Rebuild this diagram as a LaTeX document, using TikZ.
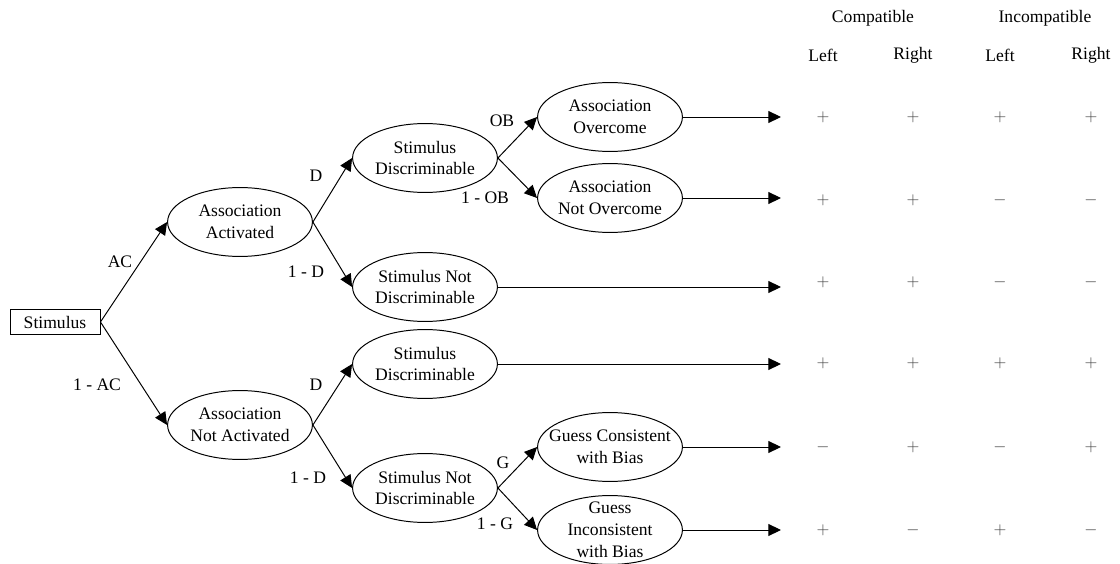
\documentclass[tikz,border=0pt]{standalone}
\usepackage{fontspec}
\setmainfont{Liberation Serif}
\usetikzlibrary{shapes.geometric,arrows.meta}
\begin{document}
\begin{tikzpicture}[x=0.025cm,y=-0.025cm,
  every node/.style={font=\fontsize{12.5}{15.6}\selectfont},
  state/.style={ellipse,draw,line width=0.7pt,inner xsep=-9pt,inner ysep=-9pt,minimum width=103pt,minimum height=49pt,align=center},
  rootbox/.style={rectangle,draw,line width=0.7pt,inner sep=0pt,minimum width=64pt,minimum height=18pt},
  branch/.style={line width=0.7pt,-{Triangle[length=9pt,width=8.5pt]}},
  lab/.style={inner sep=0pt},
  sign/.style={inner sep=0pt,text=black!75,font=\fontsize{12}{14}\selectfont},
  head/.style={inner sep=0pt}]
\useasboundingbox (0,0) rectangle (1120,564);

% tree nodes
\node[rootbox] (stim) at (55,322) {Stimulus};
\node[state] (aa)  at (240,222) {Association\\Activated};
\node[state] (ana) at (240,425) {Association\\Not Activated};
\node[state] (sd1) at (425,158) {Stimulus\\Discriminable};
\node[state] (snd1) at (425,287) {Stimulus Not\\Discriminable};
\node[state] (sd2) at (425,364) {Stimulus\\Discriminable};
\node[state] (snd2) at (425,488) {Stimulus Not\\Discriminable};
\node[state] (ao)  at (610,117) {Association\\Overcome};
\node[state] (ano) at (610,198) {Association\\Not Overcome};
\node[state] (gc)  at (610,447) {Guess Consistent\\with Bias};
\node[state] (gi)  at (610,530) {Guess\\Inconsistent\\with Bias};

% branch ends
\coordinate (e1) at (781,117);
\coordinate (e2) at (781,200);
\coordinate (e3) at (781,281);
\coordinate (e4) at (781,363);
\coordinate (e5) at (781,447);
\coordinate (e6) at (781,530);

% branches
\draw[branch] (stim.east) -- (aa.west);
\draw[branch] (stim.east) -- (ana.west);
\draw[branch] (aa.east) -- (sd1.west);
\draw[branch] (aa.east) -- (snd1.west);
\draw[branch] (ana.east) -- (sd2.west);
\draw[branch] (ana.east) -- (snd2.west);
\draw[branch] (sd1.east) -- (ao.west);
\draw[branch] (sd1.east) -- (ano.west);
\draw[branch] (snd2.east) -- (gc.west);
\draw[branch] (snd2.east) -- (gi.west);
\draw[branch] (ao.east) -- (e1);
\draw[branch] (ano.east) -- (ano.east -| e2);
\draw[branch] (snd1.east) -- (snd1.east -| e3);
\draw[branch] (sd2.east) -- (sd2.east -| e4);
\draw[branch] (gc.east) -- (e5);
\draw[branch] (gi.east) -- (e6);

% branch probabilities
\node[lab] (lac)  at (120,262) {AC};
\node[lab] (lnac) at (97,385) {1 - AC};
\node[lab] (ld1)  at (316,176) {D};
\node[lab] (lnd1) at (306,272) {1 - D};
\node[lab] (ld2)  at (316,385) {D};
\node[lab] (lnd2) at (308,478) {1 - D};
\node[lab] (lob)  at (502,121) {OB};
\node[lab] (lnob) at (485,198) {1 - OB};
\node[lab] (lg)   at (503,463) {G};
\node[lab] (lng)  at (495,524) {1 - G};

% response table
\node[head] (hc) at (873,18) {Compatible};
\node[head] (hi) at (1045,18) {Incompatible};
\node[head] (h1) at (823,55) {Left};
\node[head] (h2) at (913,55) {Right};
\node[head] (h3) at (1000,55) {Left};
\node[head] (h4) at (1091,55) {Right};

\foreach \row/\yy/\a/\b/\c/\d in {
  1/117/+/+/+/+,
  2/200/+/+/-/-,
  3/282/+/+/-/-,
  4/363/+/+/+/+,
  5/447/-/+/-/+,
  6/530/+/-/+/-} {
  \node[sign] (s\row a) at (823,\yy) {$\a$};
  \node[sign] (s\row b) at (913,\yy) {$\b$};
  \node[sign] (s\row c) at (1000,\yy) {$\c$};
  \node[sign] (s\row d) at (1091,\yy) {$\d$};
}
\end{tikzpicture}
\end{document}
